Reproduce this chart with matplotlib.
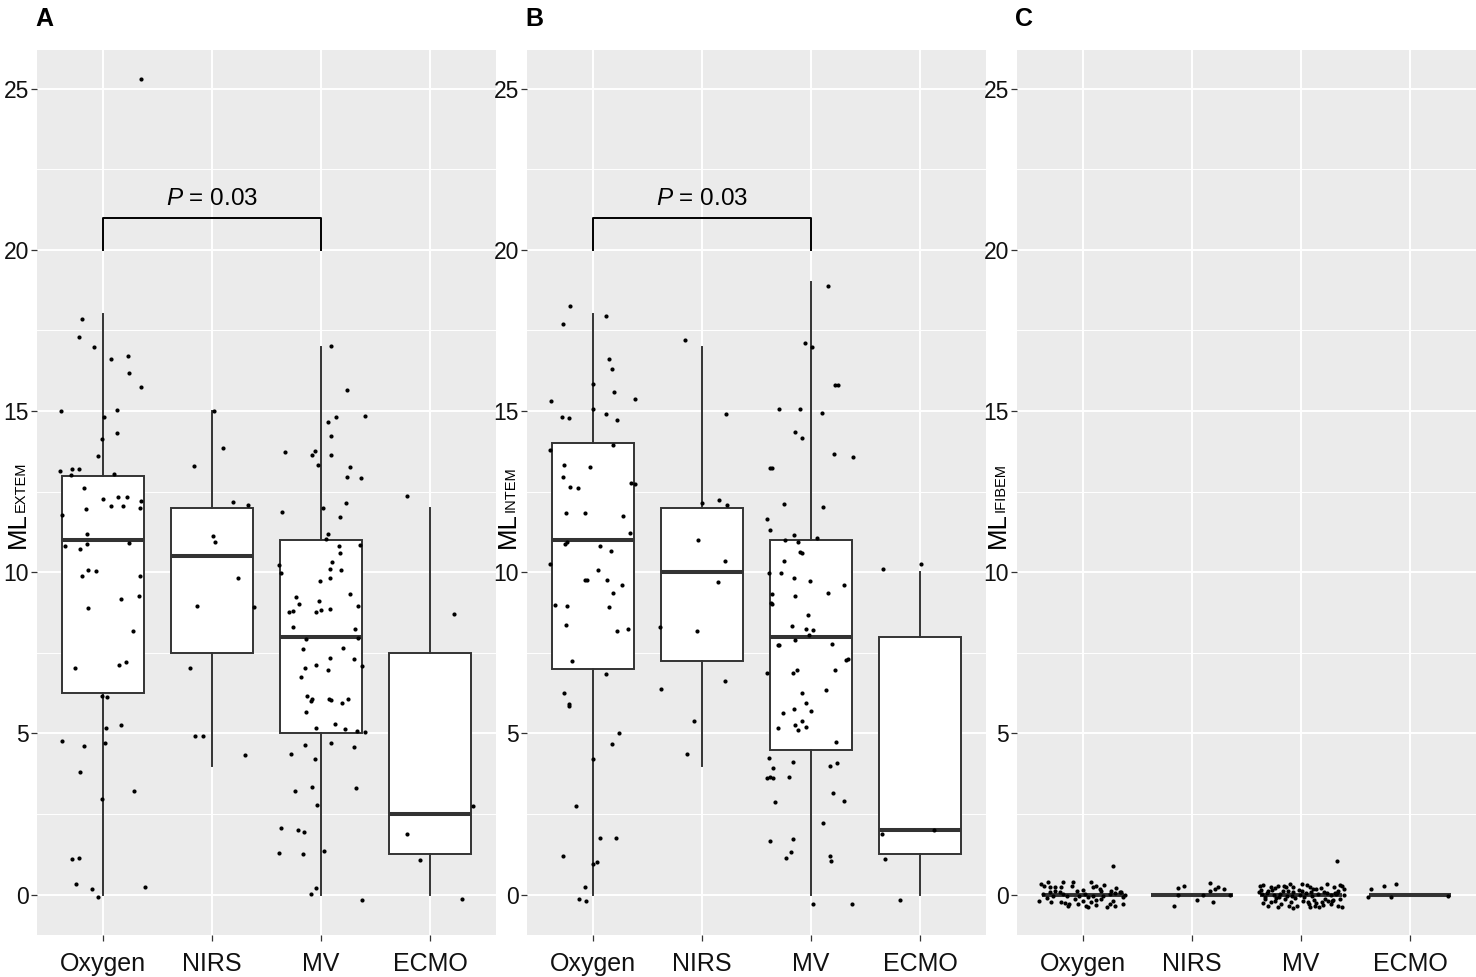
import matplotlib
matplotlib.use("Agg")
import matplotlib.pyplot as plt
from matplotlib.ticker import MultipleLocator

plt.rcParams["font.family"] = ["Liberation Sans", "DejaVu Sans"]
plt.rcParams["mathtext.fontset"] = "custom"
plt.rcParams["mathtext.rm"] = "Liberation Sans"
plt.rcParams["mathtext.it"] = "Liberation Sans:italic"

GROUPS = ["Oxygen", "NIRS", "MV", "ECMO"]
PANELS = ["A", "B", "C"]
SUBSCRIPTS = ["EXTEM", "INTEM", "IFIBEM"]

# box statistics per panel: (q1, median, q3, lower whisker, upper whisker)
BOX_A = [(6.25, 11, 13, 0, 18), (7.5, 10.5, 12, 4, 15), (5, 8, 11, 0, 17), (1.25, 2.5, 7.5, 0, 12)]
BOX_B = [(7, 11, 14, 0, 18), (7.25, 10, 12, 4, 17), (4.5, 8, 11, 0, 19), (1.25, 2, 8, 0, 10)]
BOX_C = [(0, 0, 0, 0, 0)] * 4

# jittered points: value and horizontal offset from the group centre
OXY_A_Y = [25.31, 17.86, 17.30, 16.99, 16.61, 16.71, 16.17, 15.75, 15.01, 15.04, 14.83, 14.33, 14.12, 13.60,
           13.14, 13.20, 13.20, 13.01, 13.05, 12.62, 12.28, 12.32, 12.35, 11.78, 11.97, 12.05, 12.06, 12.22,
           11.98, 11.18, 10.83, 10.73, 10.87, 10.92, 10.06, 10.04, 9.88, 9.89, 9.28, 9.16, 8.89, 8.17, 7.04,
           7.12, 7.21, 6.15, 6.13, 5.17, 5.27, 4.76, 4.61, 4.72, 3.82, 3.22, 2.97, 1.12, 1.15, 0.33, 0.18,
           -0.06, 0.24]
OXY_A_DX = [0.355, -0.19, -0.22, -0.08, 0.08, 0.23, 0.24, 0.35, -0.38, 0.13, 0.015, 0.13, -0.006, -0.04,
            -0.39, -0.28, -0.22, -0.29, 0.10, -0.17, 0.0, 0.14, 0.22, -0.37, -0.15, 0.08, 0.19, 0.355,
            0.34, -0.14, -0.34, -0.21, -0.14, 0.24, -0.13, -0.06, -0.19, 0.34, 0.33, 0.165, -0.13, 0.28, -0.25,
            0.15, 0.21, -0.006, 0.04, 0.03, 0.17, -0.37, -0.17, 0.025, -0.21, 0.29, -0.006, -0.28, -0.22, -0.24,
            -0.095, -0.04, 0.39]
NIRS_A_Y = [15.01, 13.84, 13.30, 12.17, 12.09, 11.12, 10.94, 9.82, 8.95, 8.92, 7.02, 4.91, 4.91, 4.32]
NIRS_A_DX = [0.02, 0.10, -0.16, 0.19, 0.33, 0.015, 0.03, 0.24, -0.14, 0.39, -0.20, -0.15, -0.08, 0.30]
MV_A_Y = [17.01, 15.66, 14.83, 14.85, 14.67, 14.23, 13.72, 13.65, 13.76, 13.65, 13.34, 13.26, 12.95, 12.91,
          11.88, 11.99, 12.15, 11.71, 11.20, 11.02, 10.83, 10.85, 10.61, 10.31, 10.22, 10.11, 10.08, 9.97,
          9.81, 9.73, 9.34, 9.23, 9.11, 9.02, 8.95, 8.81, 8.76, 8.78, 8.83, 8.87, 8.29, 8.23, 7.97, 7.92,
          7.62, 7.66, 7.35, 7.31, 7.10, 7.12, 7.04, 6.97, 6.76, 6.15, 6.08, 6.02, 6.08, 6.04, 6.08, 5.94,
          5.67, 5.16, 5.29, 5.13, 5.09, 5.05, 4.69, 4.63, 4.58, 4.37, 4.22, 3.33, 3.21, 3.31, 2.78, 2.07,
          2.01, 1.93, 1.30, 1.26, 1.34, 0.21, 0.02, -0.16]
MV_A_DX = [0.09, 0.24, 0.14, 0.40, 0.06, 0.09, -0.33, -0.085, -0.055, 0.09, -0.03, 0.26, 0.24, 0.365,
           -0.36, 0.02, 0.23, 0.17, 0.06, 0.04, 0.16, 0.36, 0.17, 0.10, -0.39, 0.085, 0.18, -0.37,
           0.08, -0.01, 0.26, -0.23, -0.02, -0.20, 0.34, -0.255, -0.29, -0.05, 0.0, 0.08, -0.26, 0.31, 0.34, -0.14,
           -0.17, 0.20, 0.08, 0.30, 0.37, -0.05, -0.15, 0.06, -0.18, -0.13, -0.08, -0.09, 0.07, 0.09, 0.245, 0.195,
           -0.14, -0.05, 0.125, 0.22, 0.33, 0.40, 0.09, -0.15, 0.30, -0.28, -0.055, -0.085, -0.24, 0.32, -0.04, -0.37,
           -0.215, -0.16, -0.39, -0.17, 0.03, -0.05, -0.09, 0.37]
ECMO_A_Y = [12.37, 8.71, 2.75, 1.88, 1.07, -0.12]
ECMO_A_DX = [-0.21, 0.22, 0.39, -0.21, -0.10, 0.29]

OXY_B_Y = [18.25, 17.69, 17.96, 16.63, 16.31, 15.85, 15.60, 15.37, 15.31, 15.08, 14.81, 14.80, 14.90, 14.71,
           13.96, 13.79, 13.34, 13.26, 12.97, 12.65, 12.61, 12.77, 12.74, 11.84, 11.85, 11.75, 11.23, 10.89,
           10.93, 10.83, 10.65, 10.27, 10.06, 9.75, 9.75, 9.77, 9.60, 9.37, 8.98, 8.94, 8.93, 8.37, 8.25,
           8.17, 7.26, 6.83, 6.27, 5.91, 5.86, 5.02, 4.68, 4.20, 2.75, 1.75, 1.75, 1.20, 1.01, 0.94, 0.23,
           -0.14, -0.21]
OXY_B_DX = [-0.21, -0.275, 0.12, 0.15, 0.18, 0.0, 0.20, 0.385, -0.38, 0.0, -0.28, -0.22, 0.125, 0.22,
            0.19, -0.39, -0.26, -0.02, -0.27, -0.21, -0.135, 0.355, 0.39, -0.24, -0.065, 0.28, 0.34, -0.25,
            -0.235, 0.065, 0.17, -0.39, 0.05, -0.065, -0.055, 0.135, 0.27, 0.19, -0.34, -0.235, 0.15, -0.24, 0.32,
            0.22, -0.19, 0.12, -0.26, -0.22, -0.215, 0.245, 0.18, 0.0, -0.15, 0.07, 0.21, -0.27, 0.04, 0.006, -0.07,
            -0.12, -0.06]
NIRS_B_Y = [17.20, 14.92, 12.16, 12.25, 12.09, 11.00, 10.36, 9.70, 8.29, 8.19, 6.64, 6.38, 5.38, 4.37]
NIRS_B_DX = [-0.15, 0.22, 0.0, 0.16, 0.23, -0.035, 0.21, 0.15, -0.38, -0.04, 0.21, -0.37, -0.07, -0.135]
MV_B_Y = [18.88, 17.10, 16.98, 15.81, 15.80, 15.06, 15.07, 14.94, 14.34, 14.17, 13.66, 13.59, 13.24, 13.22,
          12.13, 12.01, 11.64, 11.30, 11.17, 11.06, 11.01, 10.93, 10.63, 10.60, 10.34, 9.97, 9.97, 9.82,
          9.73, 9.60, 9.37, 9.32, 9.28, 9.05, 9.01, 8.67, 8.33, 8.23, 8.20, 8.04, 7.91, 7.75, 7.73, 7.78,
          7.31, 7.29, 6.88, 6.97, 6.87, 6.96, 6.27, 6.34, 5.94, 5.65, 5.77, 5.71, 5.38, 5.26, 5.11, 5.21,
          5.17, 4.75, 4.23, 4.12, 4.08, 3.92, 3.98, 3.61, 3.66, 3.61, 3.64, 2.88, 3.16, 2.91, 2.22, 1.73,
          1.67, 1.33, 1.13, 1.21, 1.05, -0.30, -0.30]
MV_B_DX = [0.15, -0.06, 0.01, 0.22, 0.245, -0.29, -0.10, 0.10, -0.15, -0.085, 0.21, 0.38, -0.38, -0.36,
           -0.245, 0.11, -0.40, -0.375, -0.155, 0.05, -0.24, -0.12, -0.10, -0.085, -0.25, -0.385, -0.28, -0.16,
           -0.006, 0.30, 0.15, -0.36, -0.15, -0.37, -0.36, -0.03, -0.175, -0.05, 0.02, -0.02, -0.15, -0.29, -0.30, 0.19,
           0.34, 0.32, -0.40, -0.125, -0.17, 0.22, -0.08, 0.14, -0.05, -0.26, -0.16, 0.0, -0.085, -0.15, -0.12, -0.05,
           -0.30, 0.23, -0.39, -0.165, 0.24, -0.35, 0.17, -0.40, -0.375, -0.35, -0.20, -0.33, 0.20, 0.30, 0.11, -0.17,
           -0.38, -0.18, -0.23, 0.175, 0.18, 0.02, 0.37]
ECMO_B_Y = [10.10, 10.26, 1.88, 1.10, -0.17, 2.0]
ECMO_B_DX = [-0.34, 0.006, -0.35, -0.32, -0.19, 0.12]

OXY_C_Y = [0.90, 0.33, 0.28, 0.38, 0.23, 0.38, 0.23, 0.28, 0.38, 0.38, 0.23, 0.28, 0.18, 0.12, 0.12,
           0.20, 0.07, 0.02, 0.07, -0.03, 0.07, 0.02, -0.03, 0.02, -0.08, -0.03, 0.02, -0.01, -0.19,
           -0.24, -0.22, -0.34, -0.29, -0.13, -0.29, -0.34, -0.39, -0.24, -0.32, -0.13, -0.39, -0.29, -0.19,
           -0.29, -0.08, 0.10, -0.05, 0.15, -0.15, 0.05, -0.10, 0.30, -0.20, 0.12, -0.35, 0.25, -0.05,
           0.08, -0.25]
OXY_C_DX = [0.28, -0.38, -0.35, -0.32, -0.30, -0.18, -0.20, -0.10, -0.09, 0.08, 0.095, 0.125, 0.155, 0.17, 0.26,
            0.31, 0.355, -0.365, -0.30, -0.27, -0.21, -0.18, -0.03, 0.02, 0.05, 0.095, 0.25, 0.385, -0.395,
            -0.29, -0.20, -0.135, -0.12, -0.07, -0.04, 0.035, 0.05, 0.08, 0.125, 0.17, 0.22, 0.25, 0.28,
            0.37, 0.37, -0.25, -0.14, 0.0, 0.12, 0.30, -0.33, 0.20, 0.0, -0.05, 0.30, -0.25, 0.19,
            0.34, -0.16]
NIRS_C_Y = [-0.34, 0.20, 0.0, 0.28, -0.16, 0.36, 0.12, -0.24, 0.18, 0.23, 0.18, 0.0, 0.0]
NIRS_C_DX = [-0.16, -0.13, -0.125, -0.07, 0.05, 0.165, 0.165, 0.19, 0.21, 0.24, 0.29, 0.10, 0.35]
MV_C_Y = [1.06, 0.28, 0.30, 0.23, 0.26, 0.28, 0.33, 0.23, 0.33, 0.30, 0.23, 0.18, 0.33, 0.23, 0.28, 0.18,
          0.12, 0.07, 0.02, 0.05, -0.01, 0.02, -0.03, 0.07, -0.01, 0.05, -0.03, 0.02, 0.07, -0.01, 0.05,
          -0.01, -0.13, -0.24, -0.19, -0.29, -0.13, -0.24, -0.34, -0.19, -0.29, -0.34, -0.24, -0.13, -0.19,
          -0.34, -0.39, -0.34, -0.39, -0.42, -0.39, -0.39, -0.29, -0.13, 0.15, 0.10, 0.20, -0.08, 0.12,
          -0.10, 0.16, -0.06, 0.09, -0.15, 0.22, -0.20, 0.04, -0.26, 0.14, -0.11, 0.25, -0.05, 0.10, -0.22,
          0.18, -0.31, 0.06, -0.17, 0.30, -0.08, 0.11, -0.27, 0.01, -0.36]
MV_C_DX = [0.33, -0.38, -0.35, -0.28, -0.21, -0.16, -0.10, -0.07, 0.006, 0.05, 0.08, 0.14, 0.235, 0.30, 0.37, 0.39,
           0.34, -0.39, -0.36, -0.31, -0.25, -0.19, -0.13, -0.07, -0.01, 0.04, 0.10, 0.15, 0.21, 0.27, 0.33,
           0.39, -0.33, -0.28, -0.24, -0.18, -0.15, -0.09, -0.04, 0.02, 0.07, 0.13, 0.19, 0.22, 0.28,
           0.34, 0.37, -0.30, -0.21, -0.07, 0.08, 0.16, 0.27, 0.36, -0.37, -0.30, -0.24, -0.20, -0.12,
           -0.06, -0.02, 0.03, 0.09, 0.12, 0.18, 0.25, 0.31, -0.35, -0.27, -0.23, -0.14, -0.08, 0.01, 0.06,
           0.11, 0.20, 0.24, 0.29, 0.36, -0.33, -0.17, 0.14, 0.32, -0.11]
ECMO_C_Y = [-0.08, 0.18, 0.28, -0.06, 0.33, -0.03]
ECMO_C_DX = [-0.39, -0.36, -0.245, -0.18, -0.13, 0.34]

POINTS = [
    [(OXY_A_Y, OXY_A_DX), (NIRS_A_Y, NIRS_A_DX), (MV_A_Y, MV_A_DX), (ECMO_A_Y, ECMO_A_DX)],
    [(OXY_B_Y, OXY_B_DX), (NIRS_B_Y, NIRS_B_DX), (MV_B_Y, MV_B_DX), (ECMO_B_Y, ECMO_B_DX)],
    [(OXY_C_Y, OXY_C_DX), (NIRS_C_Y, NIRS_C_DX), (MV_C_Y, MV_C_DX), (ECMO_C_Y, ECMO_C_DX)],
]
BOXES = [BOX_A, BOX_B, BOX_C]
# significance bracket: (group i, group j, text) or None
BRACKETS = [(1, 3, "$\\mathit{P}$ = 0.03"), (1, 3, "$\\mathit{P}$ = 0.03"), None]

W, H = 1476, 977
AX_LEFT = [37, 527, 1017]
AX_W, AX_TOP, AX_BOT = 459, 50, 935
DARK = "#333333"

fig = plt.figure(figsize=(W / 100, H / 100), dpi=100)

for k in range(3):
    ax = fig.add_axes([AX_LEFT[k] / W, 1 - AX_BOT / H, AX_W / W, (AX_BOT - AX_TOP) / H])
    ax.set_facecolor("#EBEBEB")
    for s in ax.spines.values():
        s.set_visible(False)

    stats = [dict(q1=b[0], med=b[1], q3=b[2], whislo=b[3], whishi=b[4], fliers=[]) for b in BOXES[k]]
    ax.bxp(stats, positions=range(1, 5), widths=0.75, patch_artist=True, showfliers=False, showcaps=False,
           manage_ticks=False,
           boxprops=dict(facecolor="white", edgecolor=DARK, lw=1.4),
           medianprops=dict(color=DARK, lw=2.9, solid_capstyle="butt"),
           whiskerprops=dict(color=DARK, lw=1.4), zorder=2)

    for g, (ys, dxs) in enumerate(POINTS[k]):
        ax.scatter([g + 1 + d for d in dxs], ys, s=9, color="black", lw=0, zorder=3)

    ax.set_xlim(0.4, 4.6)
    ax.set_ylim(-1.25, 26.2)
    ax.set_xticks(range(1, 5))
    ax.set_xticklabels(GROUPS)
    ax.set_yticks([0, 5, 10, 15, 20, 25])
    ax.yaxis.set_minor_locator(MultipleLocator(2.5))
    ax.set_axisbelow(True)
    ax.grid(True, which="major", color="white", lw=1.4)
    ax.yaxis.grid(True, which="minor", color="white", lw=0.7)
    ax.tick_params(axis="both", which="major", length=4.3, width=0.9, color=DARK, labelcolor="#111111")
    ax.tick_params(axis="y", which="minor", length=0)
    ax.tick_params(axis="y", labelsize=16.5, pad=1.5)
    ax.tick_params(axis="x", labelsize=18, pad=8)

    if BRACKETS[k]:
        i, j, txt = BRACKETS[k]
        ax.plot([i, i, j, j], [20, 21, 21, 20], color="black", lw=1.4, zorder=4)
        ax.text((i + j) / 2, 21.38, txt, ha="center", va="baseline", fontsize=17.5)

    # y label: "ML" with small subscript, placed in the tick-label column
    x0 = (AX_LEFT[k] - 12) / W
    main = fig.text(x0, 1 - 548 / H, "ML", rotation=90, rotation_mode="anchor",
                    ha="left", va="baseline", fontsize=18.5)
    ax.annotate(SUBSCRIPTS[k], xy=(x0, 1.0), xycoords=("figure fraction", main),
                rotation=90, rotation_mode="anchor", ha="left", va="baseline", fontsize=10.5,
                annotation_clip=False)

    fig.text((AX_LEFT[k] - 2) / W, 1 - 7 / H, PANELS[k], ha="left", va="top", fontsize=18, fontweight="bold")

fig.savefig("out.png", dpi=100)
